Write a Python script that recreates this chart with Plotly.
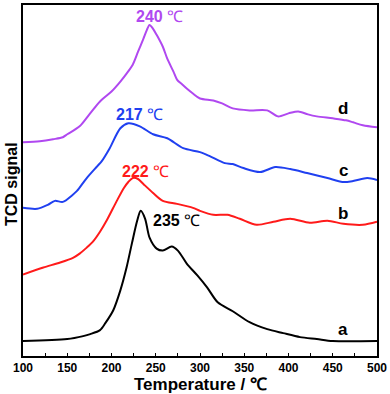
import plotly.graph_objects as go

# Temperature (°C) and TCD signal (arbitrary units)
temp_d = [100,119,134,145,150,164,175,187,200,210,217,224,230,236,240,243,247,251,258,263,270,274,280,285,292,300,315,325,337,356,376,388,400,411,422,432,450,465,473,484,500]
sig_d = [215,216,218,220,223,231,243,256,266,276,284,293,306,319,328,333,329,323,311,299,286,278,273,269,264,259,257,254,249,247,247,241,244,246,243,241,239,237,235,232,230]

temp_c = [100,116,128,136,145,156,161,172,184,189,198,210,219,232,247,263,281,300,311,328,337,349,368,385,402,421,444,461,473,489,500]
sig_c = [149,148,152,156,155,162,166,179,191,196,209,229,234,231,223,219,209,205,201,194,193,189,185,190,188,184,179,175,176,179,177]

temp_b = [100,123,142,157,164,172,179,187,195,206,214,219,224,230,236,247,258,274,292,300,315,331,345,364,383,402,424,444,462,484,500]
sig_b = [82,89,94,99,103,109,115,125,137,156,169,175,179,178,173,164,156,153,149,146,142,142,138,132,135,138,134,136,133,132,135]

temp_a = [100,150,168,176,187,193,202,210,217,223,229,233,238,243,251,258,268,275,285,297,308,320,337,356,376,394,413,432,450,500]
sig_a = [15,17,20,22,26,33,46,66,89,113,136,146,138,119,108,106,110,106,93,81,69,54,45,34,27,23,19,17,15,15]

series_names = ["a", "b", "c", "d"]
peak_labels = ["235", "222", "217", "240"]
x_ticks = [100, 150, 200, 250, 300, 350, 400, 450, 500]

colors = {"a": "#000000", "b": "#FF1A1A", "c": "#2040F0", "d": "#B048F0"}
data = {"a": (temp_a, sig_a), "b": (temp_b, sig_b), "c": (temp_c, sig_c), "d": (temp_d, sig_d)}

FONT = "Liberation Sans, Arial, Helvetica, sans-serif"

fig = go.Figure()
for name in series_names:
    t, s = data[name]
    fig.add_trace(go.Scatter(x=t, y=s, mode="lines", name=name,
                             line=dict(color=colors[name], width=2, shape="spline", smoothing=0.8),
                             showlegend=False))

# peak labels (positions in data coords)
peak_pos = {"a": (273, 136), "b": (238, 186), "c": (232, 243), "d": (254, 341)}
for name, lab in zip(series_names, peak_labels):
    x, y = peak_pos[name]
    fig.add_annotation(x=x, y=y, text=f"<b>{lab}</b> ℃", showarrow=False,
                       font=dict(family=FONT, size=16, color=colors[name]),
                       xanchor="center", yanchor="middle")

# curve letters
letter_pos = {"a": 27, "b": 143, "c": 187, "d": 249}
for name in series_names:
    fig.add_annotation(x=462, y=letter_pos[name], text=f"<b>{name}</b>", showarrow=False,
                       font=dict(family=FONT, size=17, color="#000000"),
                       xanchor="center", yanchor="middle")

# axis titles
fig.add_annotation(xref="paper", yref="paper", x=0.5, y=-0.082,
                   text="<b>Temperature / ℃</b>", showarrow=False,
                   font=dict(family=FONT, size=17, color="#000"),
                   xanchor="center", yanchor="middle")
fig.add_annotation(xref="paper", yref="paper", x=-0.034, y=0.49,
                   text="<b>TCD signal</b>", showarrow=False, textangle=-90,
                   font=dict(family=FONT, size=16, color="#000"),
                   xanchor="center", yanchor="middle")

fig.update_layout(
    width=390, height=394,
    margin=dict(l=23, r=13, t=3, b=38),
    paper_bgcolor="white", plot_bgcolor="white",
    font=dict(family=FONT, color="#000"),
)
fig.update_xaxes(range=[100, 500], tickvals=x_ticks, ticktext=[f"<b>{v}</b>" for v in x_ticks],
                 ticks="inside", ticklen=3, tickwidth=1.2, tickcolor="#000",
                 minor=dict(dtick=25, ticks="inside", ticklen=3, tickwidth=1.2, tickcolor="#000"),
                 showline=True, linecolor="#000", linewidth=2, mirror=True,
                 showgrid=False, zeroline=False,
                 tickfont=dict(family=FONT, size=12, color="#000"))
fig.update_yaxes(range=[0, 353], showticklabels=False, ticks="",
                 showline=True, linecolor="#000", linewidth=2, mirror=True,
                 showgrid=False, zeroline=False)

fig.write_html("out.html", config={"displayModeBar": False},
               post_script="document.body.style.margin='0';document.body.style.padding='0';")
